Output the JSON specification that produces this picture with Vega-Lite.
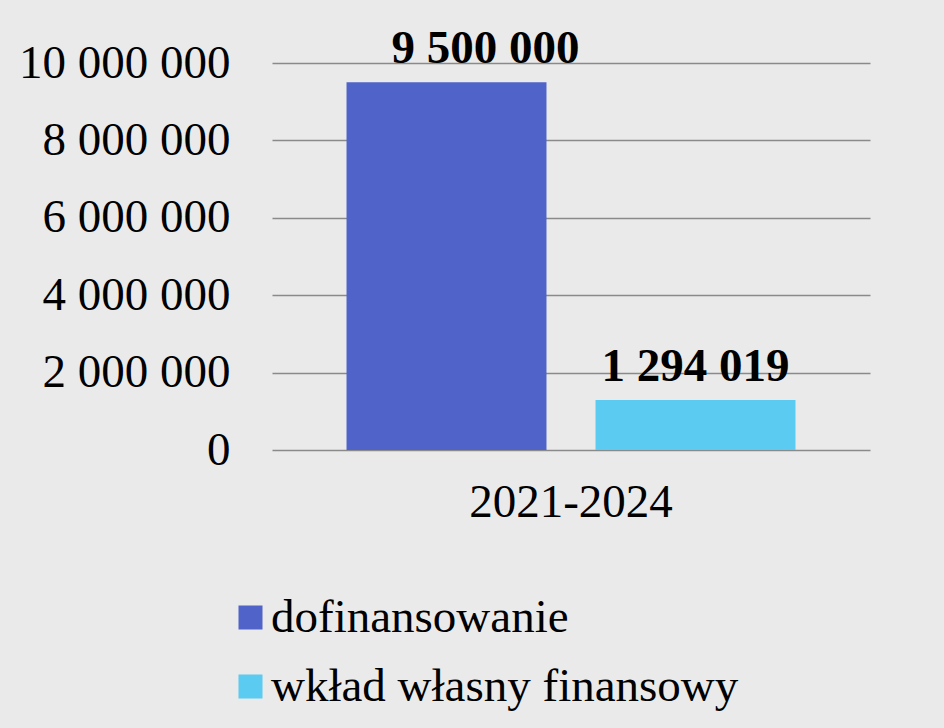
{
  "$schema": "https://vega.github.io/schema/vega-lite/v6.json",
  "autosize": {"type": "none"},
  "padding": {"left": 272, "top": 63, "right": 74, "bottom": 278},
  "width": 598,
  "height": 387,
  "background": "#EAEAEA",
  "data": {"values": [
    {"okres": "2021-2024", "seria": "dofinansowanie", "kwota": 9500000},
    {"okres": "2021-2024", "seria": "wkład własny finansowy", "kwota": 1294019}
  ]},
  "config": {
    "locale": {"number": {"decimal": ",", "thousands": " ", "grouping": [3], "currency": ["", ""]}},
    "view": {"stroke": null},
    "font": "Times New Roman, Liberation Serif, serif"
  },
  "encoding": {
    "x": {"field": "okres", "type": "nominal",
      "scale": {"paddingInner": 0, "paddingOuter": 0.166},
      "axis": {"title": null, "domain": false, "ticks": false, "labelAngle": 0, "labelFont": "Times New Roman, Liberation Serif, serif", "labelFontSize": 47, "labelColor": "#000000", "labelPadding": 29, "labelLimit": 600}},
    "xOffset": {"field": "seria", "type": "nominal", "scale": {"paddingInner": 0.197, "paddingOuter": 0}},
    "y": {"field": "kwota", "type": "quantitative",
      "scale": {"domain": [0, 10000000], "nice": false},
      "axis": {"title": null, "domain": false, "ticks": false, "values": [0, 2000000, 4000000, 6000000, 8000000, 10000000], "format": ",d", "labelOverlap": false, "labelLimit": 600, "labelFont": "Times New Roman, Liberation Serif, serif", "labelFontSize": 47, "labelColor": "#000000", "labelPadding": 42, "gridColor": "#8A8A8A", "gridWidth": 1.5, "gridOpacity": 1}}
  },
  "layer": [
    {"mark": {"type": "bar"},
     "encoding": {
       "color": {"field": "seria", "type": "nominal",
         "scale": {"domain": ["dofinansowanie", "wkład własny finansowy"], "range": ["#4F63C9", "#5BCBF1"]},
         "legend": {"title": null, "orient": "none", "legendX": -45, "legendY": 531, "direction": "vertical", "padding": 0,
           "symbolType": "square", "symbolSize": 576, "symbolStrokeWidth": 0, "symbolOpacity": 1,
           "labelFont": "Times New Roman, Liberation Serif, serif", "labelFontSize": 47, "labelColor": "#000000", "labelOffset": -3, "rowPadding": 21, "labelLimit": 700}}
     }},
    {"mark": {"type": "text", "baseline": "alphabetic", "dy": -19, "dx": {"expr": "datum.kwota > 5000000 ? 39 : 0"}, "font": "Times New Roman, Liberation Serif, serif", "fontSize": 47, "fontWeight": "bold", "color": "#000000"},
     "encoding": {"text": {"field": "kwota", "type": "quantitative", "format": ",d"}}}
  ]
}
